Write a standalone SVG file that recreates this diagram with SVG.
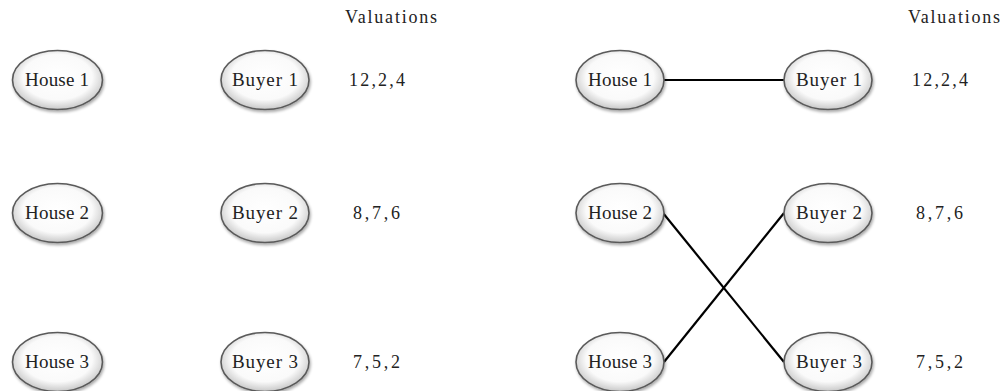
<svg xmlns="http://www.w3.org/2000/svg" width="1003" height="391" viewBox="0 0 1003 391">
  <defs>
    <radialGradient id="nodeFill" cx="50%" cy="45%" r="55%">
      <stop offset="0%" stop-color="#ffffff"/>
      <stop offset="70%" stop-color="#fafafa"/>
      <stop offset="100%" stop-color="#c8c8c8"/>
    </radialGradient>
    <filter id="shadow" x="-20%" y="-20%" width="140%" height="150%">
      <feGaussianBlur in="SourceAlpha" stdDeviation="1.5"/>
      <feOffset dx="1" dy="2" result="b"/>
      <feComponentTransfer><feFuncA type="linear" slope="0.35"/></feComponentTransfer>
      <feMerge><feMergeNode/><feMergeNode in="SourceGraphic"/></feMerge>
    </filter>
  </defs>
  <style>
    .node ellipse { fill: url(#nodeFill); stroke: #5a5a5a; stroke-width: 1.6; filter: url(#shadow); }
    text { font-family: "Liberation Serif", "DejaVu Serif", serif; fill: #222; }
    .node text { font-size: 19px; }
    .val text { font-size: 18px; }
    .edge { stroke: #000; stroke-width: 2.2; fill: none; }
  </style>

  <rect width="1003" height="391" fill="#ffffff"/>

  <!-- left panel: houses and buyers, no matching yet -->
  <g id="L-house1" class="node"><ellipse cx="57.5" cy="80" rx="45" ry="29.5"/><text x="25" y="86" textLength="64" lengthAdjust="spacing">House 1</text></g>
  <g id="L-house2" class="node"><ellipse cx="57.5" cy="213" rx="45" ry="29.5"/><text x="25" y="219" textLength="64" lengthAdjust="spacing">House 2</text></g>
  <g id="L-house3" class="node"><ellipse cx="57.5" cy="362" rx="45" ry="29.5"/><text x="25" y="368" textLength="64" lengthAdjust="spacing">House 3</text></g>
  <g id="L-buyer1" class="node"><ellipse cx="265" cy="80" rx="44" ry="29.5"/><text x="232" y="86" textLength="66" lengthAdjust="spacing">Buyer 1</text></g>
  <g id="L-buyer2" class="node"><ellipse cx="265" cy="213" rx="44" ry="29.5"/><text x="232" y="219" textLength="66" lengthAdjust="spacing">Buyer 2</text></g>
  <g id="L-buyer3" class="node"><ellipse cx="265" cy="362" rx="44" ry="29.5"/><text x="232" y="368" textLength="66" lengthAdjust="spacing">Buyer 3</text></g>

  <g id="L-valuations" class="val">
    <text x="345" y="22.5" textLength="92" lengthAdjust="spacing">Valuations</text>
    <text x="349" y="86" textLength="56" lengthAdjust="spacing">12,2,4</text>
    <text x="353" y="219" textLength="47" lengthAdjust="spacing">8,7,6</text>
    <text x="353" y="368" textLength="47" lengthAdjust="spacing">7,5,2</text>
  </g>

  <!-- right panel: perfect matching -->
  <g id="connectors">
    <line class="edge" x1="664" y1="80" x2="784" y2="80"/>
    <line class="edge" x1="663" y1="213" x2="784" y2="362"/>
    <line class="edge" x1="664" y1="362" x2="784" y2="213"/>
  </g>

  <g id="R-house1" class="node"><ellipse cx="620" cy="80" rx="44" ry="29.5"/><text x="588" y="86" textLength="64" lengthAdjust="spacing">House 1</text></g>
  <g id="R-house2" class="node"><ellipse cx="620" cy="213" rx="44" ry="29.5"/><text x="588" y="219" textLength="64" lengthAdjust="spacing">House 2</text></g>
  <g id="R-house3" class="node"><ellipse cx="620" cy="362" rx="44" ry="29.5"/><text x="588" y="368" textLength="64" lengthAdjust="spacing">House 3</text></g>
  <g id="R-buyer1" class="node"><ellipse cx="828" cy="80" rx="44" ry="29.5"/><text x="796" y="86" textLength="66" lengthAdjust="spacing">Buyer 1</text></g>
  <g id="R-buyer2" class="node"><ellipse cx="828" cy="213" rx="44" ry="29.5"/><text x="796" y="219" textLength="66" lengthAdjust="spacing">Buyer 2</text></g>
  <g id="R-buyer3" class="node"><ellipse cx="828" cy="362" rx="44" ry="29.5"/><text x="796" y="368" textLength="66" lengthAdjust="spacing">Buyer 3</text></g>

  <g id="R-valuations" class="val">
    <text x="908" y="22.5" textLength="92" lengthAdjust="spacing">Valuations</text>
    <text x="912" y="86" textLength="56" lengthAdjust="spacing">12,2,4</text>
    <text x="916" y="219" textLength="47" lengthAdjust="spacing">8,7,6</text>
    <text x="916" y="368" textLength="47" lengthAdjust="spacing">7,5,2</text>
  </g>
</svg>
